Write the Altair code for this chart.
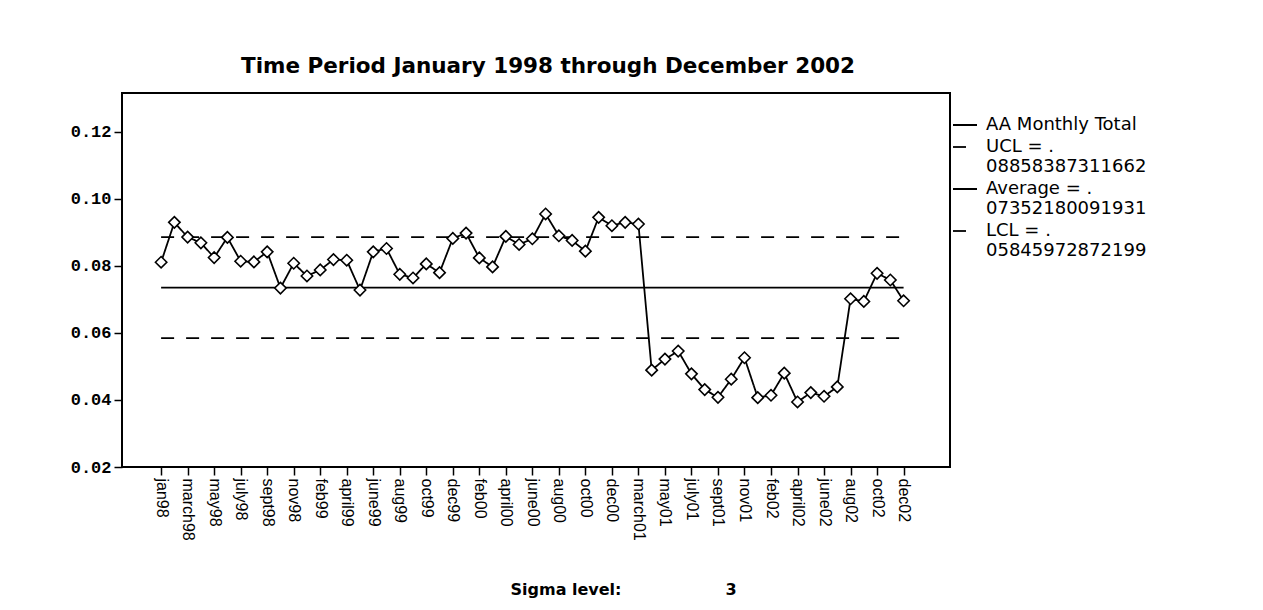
import altair as alt
import pandas as pd

# ---- data -------------------------------------------------------------
months = [
    "jan98", "feb98", "march98", "april98", "may98", "june98", "july98", "aug98",
    "sept98", "oct98", "nov98", "dec98", "feb99", "march99", "april99", "may99",
    "june99", "july99", "aug99", "sept99", "oct99", "nov99", "dec99", "jan00",
    "feb00", "march00", "april00", "may00", "june00", "july00", "aug00", "sept00",
    "oct00", "nov00", "dec00", "jan01", "march01", "april01", "may01", "june01",
    "july01", "aug01", "sept01", "oct01", "nov01", "dec01", "feb02", "march02",
    "april02", "may02", "june02", "july02", "aug02", "sept02", "oct02", "nov02",
    "dec02",
]
values = [
    0.0811, 0.0930, 0.0886, 0.0869, 0.0825, 0.0885, 0.0814, 0.0812,
    0.0842, 0.0734, 0.0808, 0.0770, 0.0788, 0.0819, 0.0817, 0.0728,
    0.0842, 0.0852, 0.0775, 0.0764, 0.0806, 0.0780, 0.0882, 0.0898,
    0.0824, 0.0797, 0.0888, 0.0864, 0.0881, 0.0955, 0.0890, 0.0876,
    0.0844, 0.0945, 0.0920, 0.0930, 0.0925, 0.0489, 0.0522, 0.0546,
    0.0478, 0.0431, 0.0408, 0.0462, 0.0526, 0.0407, 0.0414, 0.0480,
    0.0394, 0.0422, 0.0411, 0.0439, 0.0702, 0.0694, 0.0778, 0.0758,
    0.0696,
]
tick_labels = [
    "jan98", "march98", "may98", "july98", "sept98", "nov98", "feb99", "april99",
    "june99", "aug99", "oct99", "dec99", "feb00", "april00", "june00", "aug00",
    "oct00", "dec00", "march01", "may01", "july01", "sept01", "nov01", "feb02",
    "april02", "june02", "aug02", "oct02", "dec02",
]
y_ticks = [0.02, 0.04, 0.06, 0.08, 0.10, 0.12]
ucl = 0.08858387311662
average = 0.07352180091931
lcl = 0.05845972872199
sigma_level = 3

series_names = [
    "AA Monthly Total",
    "UCL = " + str(ucl)[1:],
    "Average = " + str(average)[1:],
    "LCL = " + str(lcl)[1:],
]

rows = []
for i, (m, v) in enumerate(zip(months, values)):
    rows.append({"idx": i, "month": m, "value": v, "series": series_names[0]})
for name, val in zip(series_names[1:], [ucl, average, lcl]):
    for i in (0, len(months) - 1):
        rows.append({"idx": i, "month": months[i], "value": val, "series": name})
df = pd.DataFrame(rows)

# ---- encodings --------------------------------------------------------
label_array = "[" + ",".join("'" + t + "'" for t in tick_labels) + "]"
x_enc = alt.X(
    "idx:Q",
    scale=alt.Scale(domain=[-2.95, 59.5], nice=False, zero=False),
    axis=alt.Axis(
        values=list(range(0, len(months), 2)),
        labelExpr=label_array + "[datum.value / 2]",
        labelAngle=90, labelAlign="left", labelBaseline="middle",
        labelFont="Liberation Sans", labelFontSize=16, labelColor="black",
        labelPadding=3, tickSize=8, tickColor="black", tickWidth=1.5,
        domain=False, grid=False, title=None, labelOverlap=False,
    ),
)
y_enc = alt.Y(
    "value:Q",
    scale=alt.Scale(domain=[0.02, 0.1316], nice=False, zero=False),
    axis=alt.Axis(
        values=y_ticks, format=".2f",
        labelFont="Liberation Mono", labelFontSize=17, labelFontWeight="bold",
        labelColor="black", labelPadding=3,
        tickSize=8, tickColor="black", tickWidth=1.5,
        domain=False, grid=False, title=None,
    ),
)

split_expr = (
    "indexof(datum.label, '= .') > 0 ? "
    "[substring(datum.label, 0, indexof(datum.label, '= .') + 3), "
    "substring(datum.label, indexof(datum.label, '= .') + 3)] : datum.label"
)

lines = alt.Chart(df).mark_line(color="black", strokeWidth=1.8).encode(
    x=x_enc,
    y=y_enc,
    strokeDash=alt.StrokeDash(
        "series:N",
        scale=alt.Scale(domain=series_names,
                        range=[[1, 0], [13, 12], [1, 0], [13, 12]]),
        legend=alt.Legend(
            title=None, orient="none", legendX=830, legendY=19,
            symbolType="stroke", symbolSize=576, symbolStrokeWidth=1.8,
            symbolStrokeColor="black",
            labelFont="DejaVu Sans", labelFontSize=18, labelColor="black",
            labelExpr=split_expr, labelOffset=8, rowPadding=0, labelLimit=400,
        ),
    ),
    order="idx:Q",
)

points = alt.Chart(df).transform_filter(
    alt.datum.series == series_names[0]
).mark_point(
    shape="diamond", filled=True, fill="white", stroke="black",
    strokeWidth=1.6, size=130, opacity=1,
).encode(x=x_enc, y=y_enc)

sigma_label = alt.Chart(pd.DataFrame({"t": ["Sigma level:"]})).mark_text(
    font="DejaVu Sans", fontSize=16, fontWeight=600, color="black",
    align="center", baseline="middle"
).encode(text="t:N", x=alt.value(444), y=alt.value(497))

sigma_value = alt.Chart(pd.DataFrame({"t": [str(sigma_level)]})).mark_text(
    font="DejaVu Sans", fontSize=16, fontWeight="bold", color="black",
    align="center", baseline="middle"
).encode(text="t:N", x=alt.value(609), y=alt.value(497))

chart = alt.layer(lines, points, sigma_label, sigma_value).properties(
    width=828,
    height=374,
    background="white",
    title=alt.TitleParams(
        "Time Period January 1998 through December 2002",
        font="DejaVu Sans", fontSize=21.5, fontWeight="bold", color="black",
        anchor="middle", frame="group", offset=16, dx=12,
    ),
    autosize=alt.AutoSizeParams(type="none"),
    padding={"left": 114, "top": 85, "right": 305, "bottom": 132},
).configure_view(
    stroke="black", strokeWidth=2
)

chart.save("out.html", embed_options={"renderer": "svg", "actions": False})
